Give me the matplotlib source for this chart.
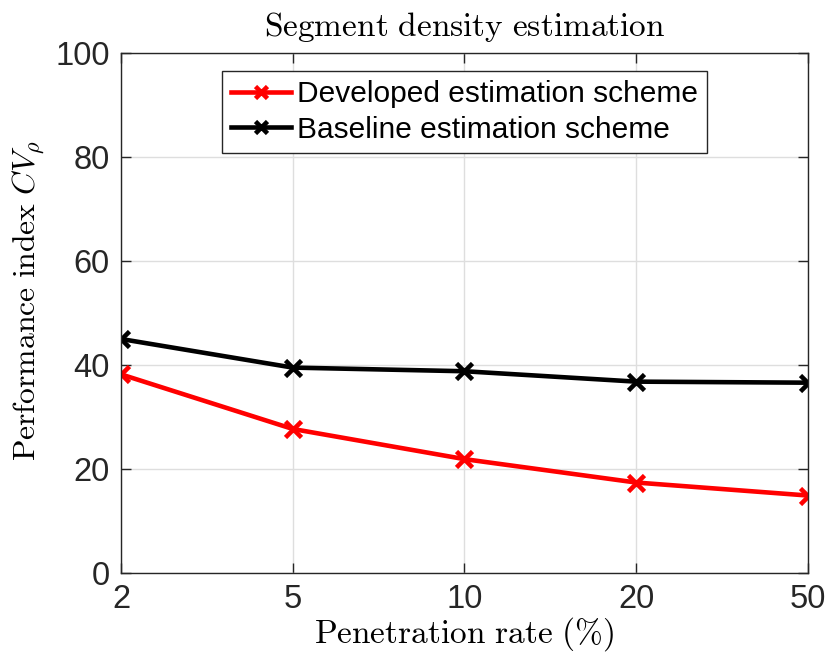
import numpy as np
import matplotlib
matplotlib.use("Agg")
import matplotlib.pyplot as plt

# penetration rates (categorical, equally spaced on the axis)
rates = ["2", "5", "10", "20", "50"]
developed = [38.2, 27.7, 21.9, 17.4, 14.9]
baseline = [45.0, 39.5, 38.8, 36.8, 36.6]

plt.rcParams['mathtext.fontset'] = 'cm'
plt.rcParams['font.family'] = ['Liberation Sans', 'DejaVu Sans']

fig = plt.figure(figsize=(8.26, 6.68), dpi=100)
ax = fig.add_axes([0.1465, 0.1422, 0.978 - 0.1465, 0.9207 - 0.1422])

x = np.arange(len(rates))
ax.plot(x, developed, color='red', lw=3.3, marker='x', ms=12, mew=3.3,
        label='Developed estimation scheme')
ax.plot(x, baseline, color='black', lw=3.3, marker='x', ms=12, mew=3.3,
        label='Baseline estimation scheme')

ax.set_xlim(0, len(rates) - 1)
ax.set_ylim(0, 100)
ax.set_xticks(x)
ax.set_xticklabels(rates)
ax.set_yticks([0, 20, 40, 60, 80, 100])

ax.grid(True, color='#dedede', lw=1)
ax.set_axisbelow(True)
for s in ax.spines.values():
    s.set_color('#262626')
    s.set_linewidth(1)
ax.tick_params(direction='in', length=7, width=1, colors='#262626',
               labelsize=23.5, top=True, right=True, pad=8)

ax.set_title(r'$\mathrm{Segment\ density\ estimation}$', fontsize=24, pad=12)
ax.set_xlabel(r'$\mathrm{Penetration\ rate\ (\%)}$', fontsize=24, labelpad=0)
ax.set_ylabel(r'$\mathrm{Performance\ index}\ CV_\rho$', fontsize=22.8, labelpad=6)
ax.yaxis.label.set_y(0.525)

leg = ax.legend(loc='upper center', bbox_to_anchor=(0.5, 0.965), fontsize=21.5,
                frameon=True, fancybox=False, handlelength=2.0,
                handletextpad=0.2, borderpad=0.3, labelspacing=0.25,
                borderaxespad=0)
leg.get_frame().set_edgecolor('#262626')
leg.get_frame().set_linewidth(1)
leg.get_frame().set_alpha(1)
for line in leg.get_lines():
    line.set_linewidth(3.3)
    line.set_markersize(9)

fig.savefig('out.png', dpi=100)
